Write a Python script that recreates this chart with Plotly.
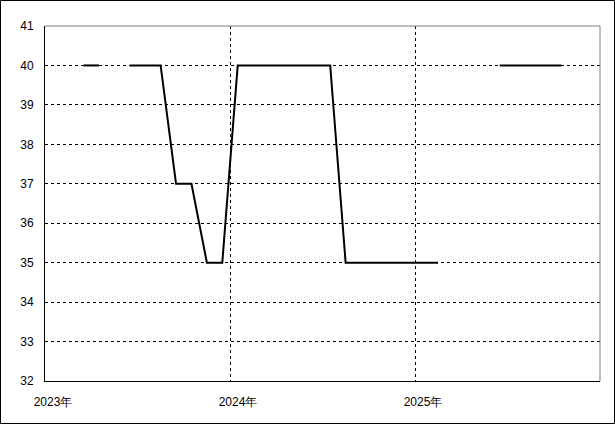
import plotly.graph_objects as go

# monthly values (equal-width months, plotted at month centre)
months = ['2023-01', '2023-02', '2023-03', '2023-04', '2023-05', '2023-06',
          '2023-07', '2023-08', '2023-09', '2023-10', '2023-11', '2023-12',
          '2024-01', '2024-02', '2024-03', '2024-04', '2024-05', '2024-06',
          '2024-07', '2024-08', '2024-09', '2024-10', '2024-11', '2024-12',
          '2025-01', '2025-02', '2025-03', '2025-04', '2025-05', '2025-06',
          '2025-07', '2025-08', '2025-09', '2025-10', '2025-11', '2025-12']
values = [None, None, 40, 40, None, 40,
          40, 40, 37, 37, 35, 35,
          40, 40, 40, 40, 40, 40,
          40, 35, 35, 35, 35, 35,
          35, 35, None, None, None, 40,
          40, 40, 40, 40, None, None]
year_labels = ['2023年', '2024年', '2025年']

x = [i + 0.5 for i in range(len(months))]
year_ticks = [months.index(y[:4] + '-01') for y in year_labels]

fig = go.Figure(go.Scatter(x=x, y=values, mode='lines', connectgaps=False,
                           customdata=months, hovertemplate='%{customdata}: %{y}<extra></extra>',
                           line=dict(color='black', width=2)))

fig.update_layout(
    width=615, height=424,
    margin=dict(l=45, r=15, t=26, b=43),
    paper_bgcolor='white', plot_bgcolor='white',
    showlegend=False,
    font=dict(family='Liberation Sans, Arial', size=12, color='black'),
)
fig.update_xaxes(
    range=[0, len(months)],
    tickvals=year_ticks, ticktext=year_labels,
    ticks='', ticklabelshift=8, ticklabelstandoff=10,
    showgrid=True, gridcolor='black', griddash='3px,3px', gridwidth=1,
    showline=True, linecolor='black', linewidth=1,
    zeroline=False,
)
fig.update_yaxes(
    range=[32, 41], dtick=1, ticks='', ticklabelstandoff=8,
    showgrid=True, gridcolor='black', griddash='3px,3px', gridwidth=1,
    showline=True, linecolor='black', linewidth=1,
    zeroline=False,
)
# gray top and right frame
fig.add_shape(type='line', xref='paper', yref='paper', x0=0, x1=1, y0=1, y1=1,
              line=dict(color='#808080', width=1))
fig.add_shape(type='line', xref='paper', yref='paper', x0=1, x1=1, y0=0, y1=1,
              line=dict(color='#808080', width=1))
# outer border around the whole picture
fig.add_shape(type='rect', xref='paper', yref='paper',
              x0=-45 / 555 + 0.5 / 555, x1=1 + 14.5 / 555,
              y0=-43 / 355 + 0.5 / 355, y1=1 + 25.5 / 355,
              line=dict(color='black', width=1), layer='below')

fig.write_html("out.html", config={'displayModeBar': False},
               post_script="document.body.style.margin='0';")
